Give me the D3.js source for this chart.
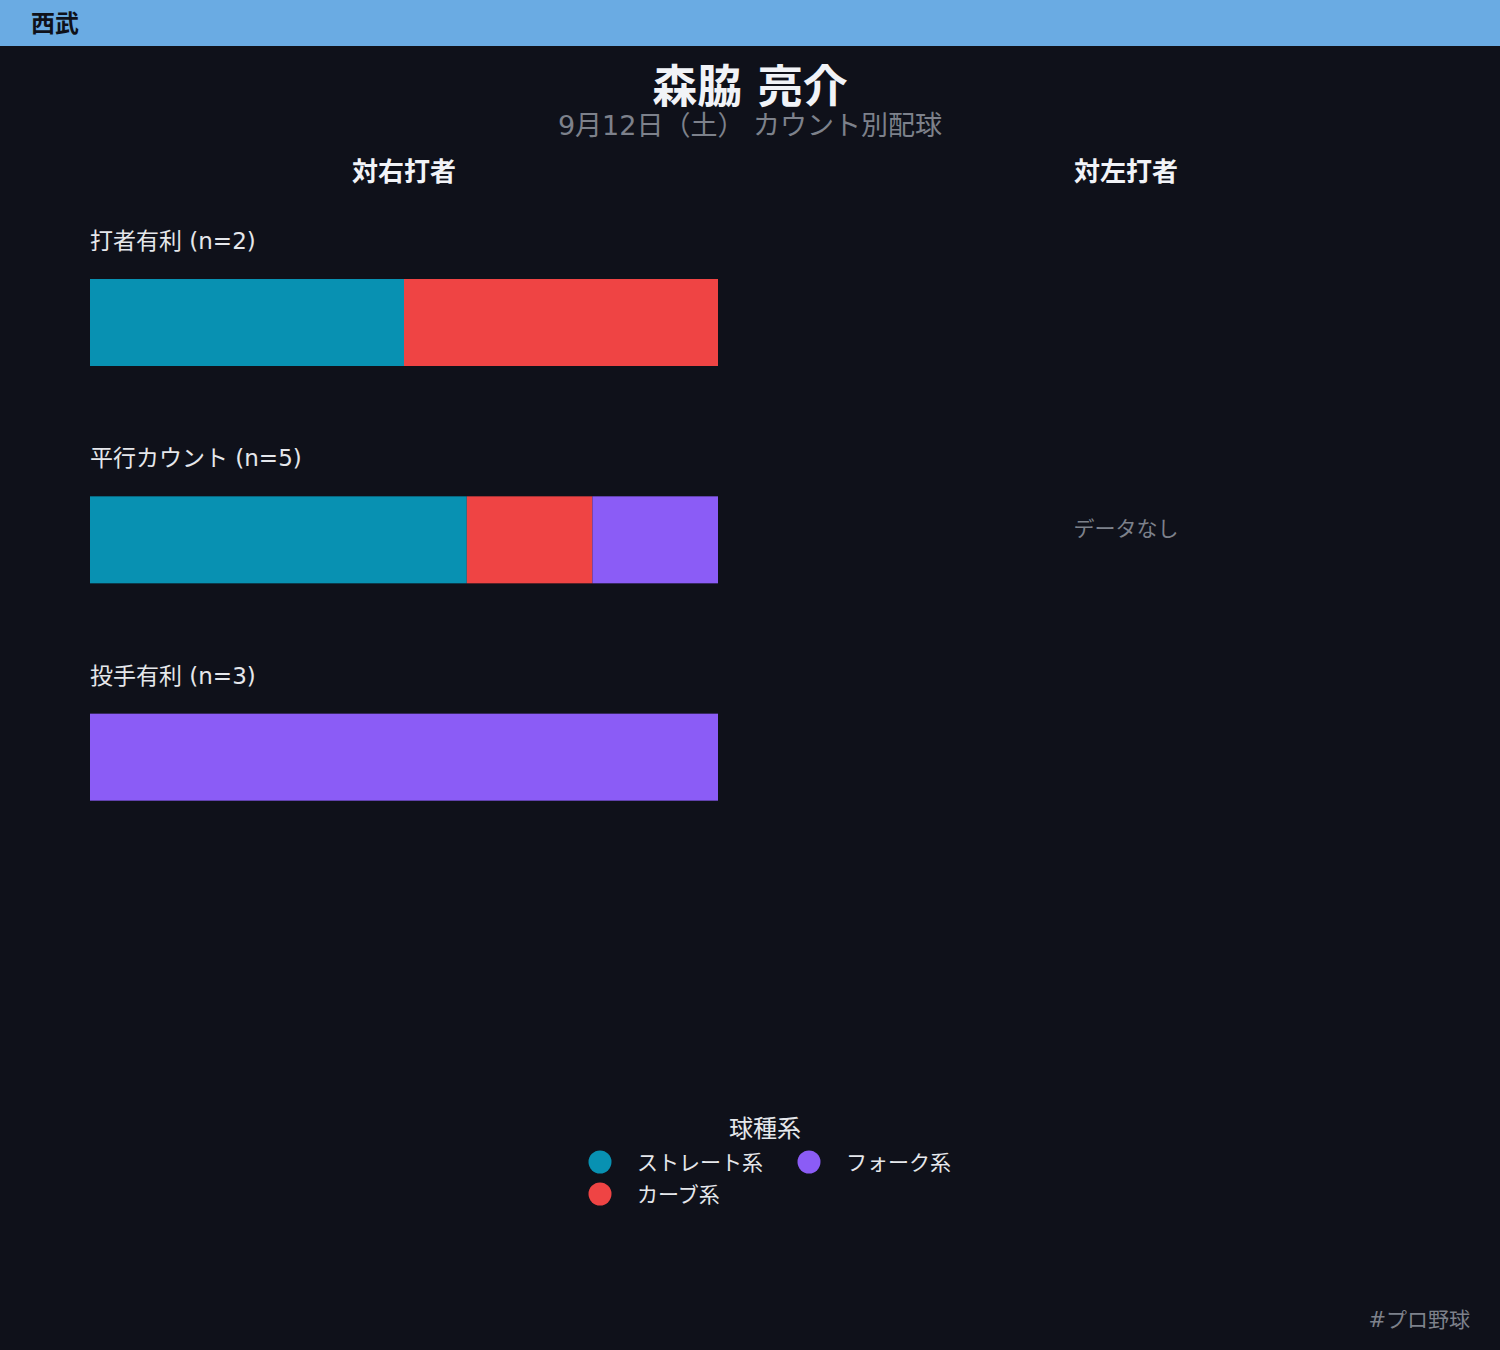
<!DOCTYPE html>
<html>
<head>
<meta charset="utf-8">
<script src="https://cdn.jsdelivr.net/npm/d3@7"></script>
<style>
body{margin:0;background:#0f111a;}
svg{display:block;font-family:"DejaVu Sans","Noto Sans CJK JP",sans-serif;}
</style>
</head>
<body>
<script>
var counts=['打者有利','平行カウント','投手有利'];
var pitchTypes=['ストレート系','カーブ系','フォーク系'];
var pitchColors=['#0891b2','#ef4444','#8b5cf6'];
// right-handed batters: pitches per count situation
var rightStraight=[1,3,0];
var rightCurve=[1,1,0];
var rightFork=[0,1,3];
var sides=['対右打者','対左打者'];

var width=1500,height=1350;
var svg=d3.select('body').append('svg')
.attr('width',width)
.attr('height',height);

svg.append('rect').attr('width',width).attr('height',height).attr('fill','#0f111a');

// team header
svg.append('rect').attr('width',width).attr('height',46).attr('fill','#6aabe3');
svg.append('text').attr('x',31).attr('y',32)
.attr('font-size',24).attr('font-weight','bold').attr('fill','#0f111a')
.text('西武');

svg.append('text').attr('x',750).attr('y',103).attr('text-anchor','middle')
.attr('font-size',45).attr('font-weight','bold').attr('fill','#f1f3f7')
.text('森脇 亮介');
svg.append('text').attr('x',750).attr('y',135).attr('text-anchor','middle')
.attr('font-size',27).attr('fill','#7d818b')
.text('9月12日（土） カウント別配球');

var panelX=d3.scaleBand().domain(sides).range([90,1440]).paddingInner(94/722);
svg.selectAll('.side').data(sides).enter().append('text')
.attr('class','side')
.attr('x',d=>panelX(d)+panelX.bandwidth()/2)
.attr('y',181)
.attr('text-anchor','middle')
.attr('font-size',26).attr('font-weight','bold').attr('fill','#f1f3f7')
.text(d=>d);

var rows=counts.map(function(c,i){
  var vals=[rightStraight[i],rightCurve[i],rightFork[i]];
  var n=d3.sum(vals);
  var acc=0;
  var segs=vals.map(function(v,j){
    var s={type:pitchTypes[j],x0:acc/n,x1:(acc+v)/n,v:v};
    acc+=v;
    return s;
  }).filter(s=>s.v>0);
  return {name:c,n:n,segs:segs};
});

var x=d3.scaleLinear().domain([0,1]).range([0,panelX.bandwidth()]);
var y=d3.scaleBand().domain(counts).range([218,870]);
var color=d3.scaleOrdinal().domain(pitchTypes).range(pitchColors);

var left=svg.append('g').attr('transform','translate('+panelX(sides[0])+',0)');
var row=left.selectAll('.row').data(rows).enter().append('g').attr('class','row')
.attr('transform',d=>'translate(0,'+y(d.name)+')');
row.append('text').attr('x',0).attr('y',31)
.attr('font-size',23).attr('fill','#e5e7eb')
.text(d=>d.name+' (n='+d.n+')');
row.selectAll('rect').data(d=>d.segs).enter().append('rect')
.attr('x',d=>x(d.x0))
.attr('width',d=>x(d.x1)-x(d.x0))
.attr('y',61)
.attr('height',87)
.attr('fill',d=>color(d.type));

svg.append('text')
.attr('x',panelX(sides[1])+panelX.bandwidth()/2)
.attr('y',536)
.attr('text-anchor','middle')
.attr('font-size',21).attr('fill','#7d818b')
.text('データなし');

// legend
var legend=svg.append('g');
legend.append('text').attr('x',765).attr('y',1137).attr('text-anchor','middle')
.attr('font-size',24).attr('fill','#e5e7eb').text('球種系');
var legPos=[[600,1162],[600,1194],[809,1162]];
var item=legend.selectAll('.item').data(pitchTypes).enter().append('g').attr('class','item')
.attr('transform',(d,i)=>'translate('+legPos[i][0]+','+legPos[i][1]+')');
item.append('circle').attr('r',11.5).attr('fill',d=>color(d));
item.append('text').attr('x',37).attr('y',8)
.attr('font-size',21).attr('fill','#e5e7eb').text(d=>d);

svg.append('text').attr('x',1470).attr('y',1327).attr('text-anchor','end')
.attr('font-size',21).attr('fill','#7d818b').text('#プロ野球');
</script>
</body>
</html>
